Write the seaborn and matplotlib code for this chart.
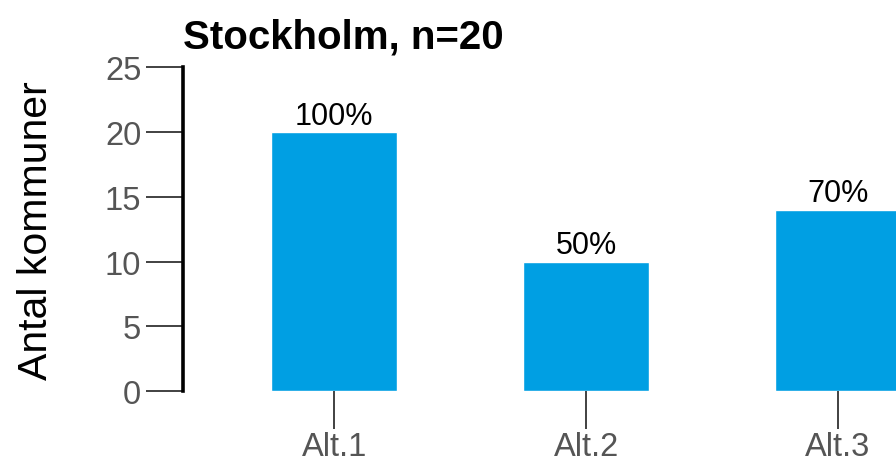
import matplotlib
matplotlib.use('Agg')
import matplotlib.pyplot as plt
import pandas as pd
import seaborn as sns

categories = ['Alt.1', 'Alt.2', 'Alt.3']
antal = [20, 10, 14]
pct_labels = ['100%', '50%', '70%']
title = 'Stockholm, n=20'

sns.set_style('white')
plt.rcParams['font.family'] = ['Liberation Sans', 'DejaVu Sans']

df = pd.DataFrame({'Alternativ': categories, 'Antal': antal})

fig = plt.figure(figsize=(8.96, 4.64), dpi=100)
ax = fig.add_axes([0.2042, 0.155, 0.7958, 0.698])

sns.barplot(data=df, x='Alternativ', y='Antal', color='#009FE3', width=0.5,
            saturation=1, ax=ax)

ax.set_ylim(0, 25)
ax.set_xlim(-0.6, 2.23)
ax.set_yticks([0, 5, 10, 15, 20, 25])

for s in ['top', 'right', 'bottom']:
    ax.spines[s].set_visible(False)
ax.spines['left'].set_linewidth(2.6)
ax.spines['left'].set_color('black')

ax.tick_params(axis='y', length=27, width=1.3, color='#333333', labelsize=23.5,
               labelcolor='#555555', pad=3, left=True)
ax.tick_params(axis='x', length=27, width=1.3, color='#333333', labelsize=23.5,
               labelcolor='#555555', pad=2, bottom=True)

ax.bar_label(ax.containers[0], labels=pct_labels, fontsize=22, color='black', padding=1)

ax.set_xlabel('')
ax.set_ylabel('Antal kommuner', fontsize=29.5, color='black', labelpad=36)
ax.set_title(title, loc='left', fontsize=29, fontweight='bold', color='black', pad=14)

fig.savefig('out.png', dpi=100)
